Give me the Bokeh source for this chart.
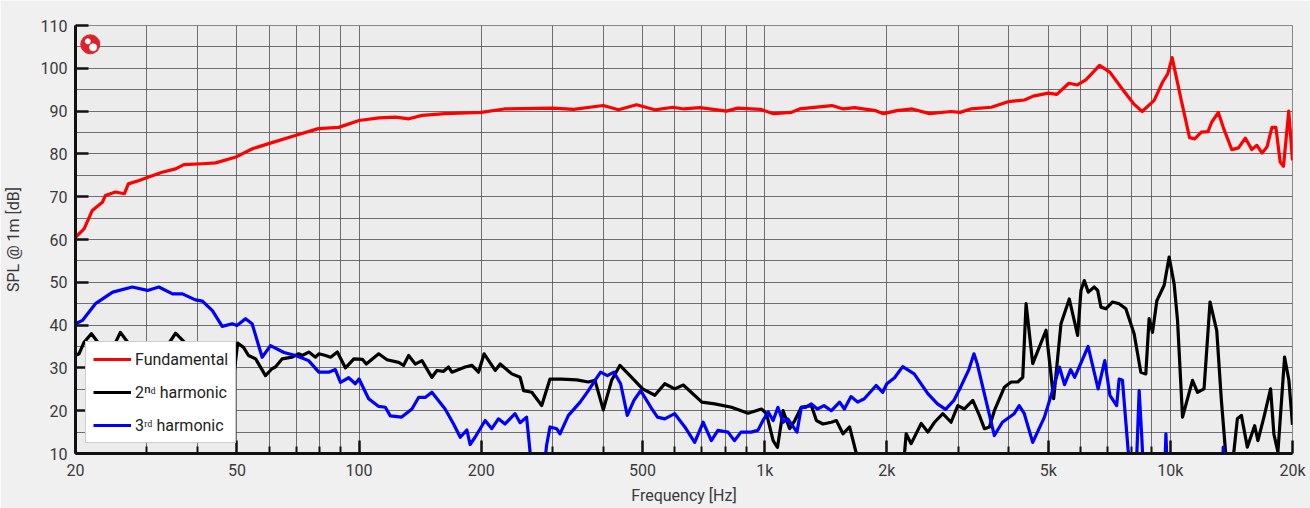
from bokeh.plotting import figure
from bokeh.models import FixedTicker, Legend, LegendItem, CustomJSTickFormatter
from bokeh.embed import file_html
from bokeh.resources import INLINE

# ---------------- data ----------------
fund_f = [20, 21, 22.0, 23.3, 23.7, 25.1, 26.4, 27.0, 28.7, 30.3, 32.7, 35.3, 37.0, 41.1, 44.3,
          49.5, 54.6, 59.9, 69.6, 79.4, 89.1, 100, 112, 123, 132.7, 143, 163, 200, 228, 300,
          338, 400, 436, 483, 536, 594, 632, 692, 805, 858, 976, 1052, 1164, 1218, 1464, 1563,
          1665, 1878, 1963, 2117, 2310, 2550, 2880, 3030, 3220, 3620, 3980, 4370, 4590, 5000,
          5250, 5620, 5900, 6190, 6690, 7090, 7660, 8120, 8520, 9120, 9570, 9850, 10100, 10600,
          11150, 11480, 11920, 12380, 12640, 13130, 13500, 14170, 14720, 15300, 15880, 16340,
          16830, 17300, 17800, 18200, 18650, 19000, 19580, 20000]
fund_db = [60.5, 62.5, 66.8, 68.7, 70.3, 71.1, 70.7, 73.0, 73.8, 74.6, 75.7, 76.5, 77.5, 77.7, 77.9,
           79.2, 81.2, 82.4, 84.3, 85.9, 86.2, 87.8, 88.4, 88.6, 88.2, 89.0, 89.4, 89.7, 90.5, 90.7,
           90.4, 91.3, 90.3, 91.5, 90.3, 90.9, 90.5, 90.8, 90.0, 90.7, 90.4, 89.4, 89.7, 90.5, 91.3, 90.5,
           90.8, 90.1, 89.4, 90.1, 90.5, 89.4, 89.9, 89.7, 90.5, 90.9, 92.2, 92.6, 93.5, 94.2,
           93.9, 96.5, 96.1, 97.3, 100.7, 99.1, 94.8, 91.7, 89.9, 92.5, 96.8, 98.7, 102.5, 93.2,
           83.8, 83.5, 85.1, 85.2, 87.4, 89.7, 86.2, 81.0, 81.4, 83.7, 81.0, 82.0,
           80.2, 81.6, 86.2, 86.2, 78.1, 77.1, 90.0, 78.5]

h2_f = [20, 20.4, 21.0, 21.9, 22.7, 23.7, 24.4, 25.8, 26.9, 28.6, 30.9, 33.0, 35.3, 37.1, 39.3,
        41.8, 43.9, 45.5, 46.8, 47.6, 48.9, 50.2, 51.9, 53.4, 55.6, 58.8, 61.0, 62.2, 64.6, 68.4,
        71.0, 72.4, 75.2, 78.1, 79.6, 82.7, 85.1, 88.4, 92.6, 97.1, 101.9, 104.2, 111.8, 117.2,
        125.2, 128.8, 132.5, 137.6, 142.9, 151.2, 155.6, 161.6, 166.2, 169.4, 182.6, 189.8, 197,
        203.4, 216.6, 222.8, 238, 249.5, 254.4, 266.6, 282, 295.6, 316, 344, 367.6, 381.6, 400,
        419.4, 439.7, 469.8, 500, 536, 567, 600, 630, 700, 753, 828, 910, 982, 1010, 1049, 1075,
        1110, 1152, 1186, 1231, 1303, 1341, 1392, 1460, 1502, 1559, 1619, 1682, 1730, 2170, 2211,
        2232, 2296, 2431, 2524, 2622, 2748, 2880, 2992, 3106, 3258, 3382, 3480, 3580, 3682, 3898,
        4048, 4204, 4326, 4408, 4578, 4937, 5156, 5374, 5634, 5907, 6020, 6134, 6276, 6492, 6618,
        6742, 6934, 7202, 7476, 7766, 8140, 8456, 8698, 8862, 9036, 9260, 9652, 9930, 10216,
        10414, 10714, 11338, 11664, 12106, 12524, 13010, 13358, 13688, 14000, 14322, 14626,
        14964, 15478, 16132, 16436, 17006, 17662, 17998, 18410, 19122, 19594, 20000]
h2_db = [32.9, 33.3, 36.0, 38.0, 36.0, 32.5, 33.5, 38.3, 36.0, 32.5, 31.5, 34.0, 38.1, 36.0, 31.5,
         26.0, 21.0, 20.0, 30.2, 29.8, 26.5, 35.8, 34.8, 32.9, 32.1, 28.2, 29.8, 30.2, 32.1, 32.5,
         33.3, 32.9, 33.7, 32.5, 33.3, 32.9, 32.5, 33.7, 30.0, 32.1, 32.0, 30.9, 33.3, 31.9,
         31.3, 30.6, 32.9, 30.9, 31.7, 27.8, 29.4, 29.2, 30.2, 29.0, 30.2, 30.6, 29.0,
         33.3, 29.4, 30.9, 28.6, 27.8, 24.7, 24.3, 21.2, 27.4, 27.4, 27.2, 26.7, 27.1, 20.2,
         27.1, 30.6, 27.8, 25.1, 23.6, 26.3, 25.1, 26.0, 22.0, 21.6, 20.8, 19.4, 20.4, 19.3, 13.0, 11.4,
         20.0, 15.8, 17.7, 20.8, 21.2, 17.7, 16.9, 17.3, 17.7, 14.6, 16.2, 10.0, 3.0, 3.0, 10.0,
         14.6, 12.3, 17.0, 15.0, 17.3, 19.3, 17.3, 21.2, 20.4, 22.4, 18.9, 15.8, 16.2, 20.0, 25.5,
         26.7, 26.7, 27.8, 45.0, 31.0, 38.8, 22.8, 40.3, 46.1, 37.6, 48.1, 50.4, 47.7, 48.9, 48.1,
         44.2, 43.8, 45.4, 45.0, 43.8, 38.0, 29.0, 28.6, 41.5, 38.3, 45.7, 49.3, 55.9, 49.6,
         41.1, 18.5, 27.1, 24.3, 25.1, 45.4, 38.7, 22.4, 10.0, 3.0, 10.0, 18.1,
         18.9, 11.5, 16.5, 13.0, 18.5, 25.1, 14.5, 10.4, 32.5, 27.1, 16.7]

h3_f = [20, 20.8, 22.4, 24.7, 27.6, 30.1, 32.1, 34.7, 36.7, 39.5, 41.1, 43.5, 46.0, 48.7, 50.0,
        52.5, 54.5, 57.7, 60.5, 65.3, 69.7, 75.1, 79.6, 84.2, 87.4, 90.0, 94.3, 97.9, 100, 105.6,
        111.8, 116.1, 119.4, 127.4, 135, 140.2, 145.6, 151.2, 163, 171, 177.6, 184.4, 187.8,
        193.2, 204.6, 212.4, 220.6, 229, 242.4, 249.5, 258.8, 263, 267, 275, 285, 290, 295.6, 307,
        312.8, 328.2, 350.8, 367.6, 381.6, 394, 409.4, 425, 441.4, 458.4, 476, 494.6, 524, 544,
        567, 600, 635.4, 672, 705, 738.6, 766.8, 812, 842, 874, 926, 962, 990, 1020, 1049, 1078,
        1110, 1140, 1201, 1231, 1264, 1303, 1348, 1400, 1460, 1530, 1572, 1632, 1695, 1760, 1882,
        1954, 2000, 2090, 2188, 2336, 2524, 2666, 2792, 2926, 3040, 3186, 3280, 3340, 3682, 3854,
        4120, 4240, 4364, 4578, 4892, 5082, 5328, 5484, 5676, 5808, 6270, 6636, 6892, 7094, 7372,
        7476, 7618, 7880, 8030, 8230, 8376, 8500, 8640, 9640, 9750, 9880, 13330, 13500, 13650,
        20000]
h3_db = [40.3, 41.1, 45.0, 47.7, 48.9, 48.1, 48.9, 47.3, 47.3, 45.9, 45.6, 43.4, 39.7, 40.3, 39.9,
         41.5, 40.3, 32.5, 35.2, 33.6, 32.9, 31.7, 29.0, 29.0, 29.6, 26.6, 27.7, 26.3, 27.4, 22.8,
         21.0, 20.8, 18.8, 18.5, 20.4, 23.1, 23.1, 24.3, 20.4, 16.9, 13.8, 15.5, 12.1,
         13.8, 17.7, 15.8, 18.1, 16.9, 19.3, 17.2, 18.5, 12.0, 5.0, 0.0, 5.0, 12.0, 16.2, 15.8,
         14.6, 18.9, 22.0, 24.7, 27.1, 29.0, 28.2, 29.0, 26.3, 18.9, 22.4, 24.7, 20.8, 18.5,
         18.1, 19.3, 16.2, 12.6, 17.3, 13.0, 15.4, 15.0, 13.0, 15.0, 15.0, 15.4, 17.7, 19.7, 17.7, 20.8,
         17.3, 18.1, 15.0, 20.8, 20.8, 21.6, 20.4, 21.2, 20.0, 22.0, 20.4, 23.3, 22.0, 22.8, 25.9,
         24.3, 26.3, 27.7, 30.3, 28.6, 24.0, 21.6, 20.3, 22.4, 25.5, 29.6, 33.3, 31.0, 14.2, 17.3,
         19.3, 21.2, 19.3, 12.6, 18.5, 23.6, 30.2, 26.1, 29.6, 27.8, 35.0, 25.1, 31.7, 23.6, 21.2,
         27.4, 27.1, 10.0, 0.0, 5.0, 24.7, 14.0, 0.0, 0.0, 14.6, 0.0, 0.0, 11.5, 0.0,
         0.0]

x_major = [20, 50, 100, 200, 500, 1000, 2000, 5000, 10000, 20000]
x_labels = ["20", "50", "100", "200", "500", "1k", "2k", "5k", "10k", "20k"]
x_minor = [30, 40, 60, 70, 80, 90, 300, 400, 600, 700, 800, 900,
           3000, 4000, 6000, 7000, 8000, 9000]
y_major = [10, 20, 30, 40, 50, 60, 70, 80, 90, 100, 110]
y_minor = [15, 25, 35, 45, 55, 65, 75, 85, 95, 105]

series_names = ["Fundamental", "2\u207f\u1d48 harmonic", "3\u02b3\u1d48 harmonic"]
series_colors = ["#ff0000", "#000000", "#0000ff"]

FONT = "Roboto"

# ---------------- figure ----------------
p = figure(width=1310, height=508, x_axis_type="log", x_range=(20, 20000), y_range=(10, 110),
           output_backend="svg", toolbar_location=None,
           min_border_left=73, min_border_right=18, min_border_top=25, min_border_bottom=55)

p.background_fill_color = "#ececec"
p.border_fill_color = "#f0f0f0"
p.outline_line_color = "#888888"
p.outline_line_width = 1

# axes
p.xaxis.ticker = FixedTicker(ticks=x_major, minor_ticks=x_minor)
p.yaxis.ticker = FixedTicker(ticks=y_major, minor_ticks=y_minor)
p.xaxis.formatter = CustomJSTickFormatter(args=dict(tvals=x_major, tlabels=x_labels), code="""
    for (let i = 0; i < tvals.length; i++) {
        if (Math.abs(tvals[i] - tick) < 1e-6 * tvals[i]) return tlabels[i];
    }
    return "";
""")

for ax in (p.xaxis[0], p.yaxis[0]):
    ax.axis_line_width = 3
    ax.axis_line_color = "#111111"
    ax.major_tick_line_color = "#111111"
    ax.major_tick_line_width = 2.5
    ax.minor_tick_line_color = "#111111"
    ax.minor_tick_line_width = 2
    ax.major_tick_in = 13
    ax.major_tick_out = 0
    ax.minor_tick_out = 0
    ax.major_label_text_font = FONT
    ax.major_label_text_font_size = "16px"
    ax.major_label_text_color = "#3a3a3a"
    ax.major_label_standoff = 8
    ax.axis_label_text_font = FONT
    ax.axis_label_text_font_size = "16px"
    ax.axis_label_text_font_style = "normal"
    ax.axis_label_text_color = "#3a3a3a"

p.xaxis.minor_tick_in = 7
p.yaxis.minor_tick_in = 0
p.xaxis.major_label_standoff = 7
p.xaxis.axis_label = "Frequency [Hz]"
p.yaxis.axis_label = "SPL @ 1m [dB]"
p.xaxis.axis_label_standoff = 3
p.yaxis.axis_label_standoff = 15

# grid
for g in (p.xgrid[0], p.ygrid[0]):
    g.grid_line_color = "#444444"
    g.grid_line_alpha = 0.75
    g.grid_line_width = 1
    g.minor_grid_line_color = "#444444"
    g.minor_grid_line_alpha = 0.75
    g.minor_grid_line_width = 1

# logo
p.scatter([21.75], [105.6], size=19, color="#e0202a", marker="circle")
p.scatter([21.45], [106.3], size=5, color="white", marker="circle")
p.scatter([22.1], [104.9], size=7, color="white", marker="circle")

# curves
renderers = []
for fx, dy, c in ((fund_f, fund_db, series_colors[0]),
                  (h2_f, h2_db, series_colors[1]),
                  (h3_f, h3_db, series_colors[2])):
    r = p.line(fx, dy, line_color=c, line_width=3.2, line_join="round")
    renderers.append(r)

legend = Legend(items=[LegendItem(label=n, renderers=[r]) for n, r in zip(series_names, renderers)],
                location=(10, 10), orientation="vertical")
legend.border_line_color = "#9a9a9a"
legend.border_line_width = 1
legend.background_fill_color = "white"
legend.background_fill_alpha = 1.0
legend.label_text_font = FONT
legend.label_text_font_size = "16px"
legend.label_text_color = "#222222"
legend.glyph_width = 38
legend.glyph_height = 20
legend.label_height = 20
legend.label_standoff = 4
legend.spacing = 13
legend.padding = 7
legend.margin = 0
p.add_layout(legend, "center")

open("out.html", "w").write(file_html(p, INLINE))
